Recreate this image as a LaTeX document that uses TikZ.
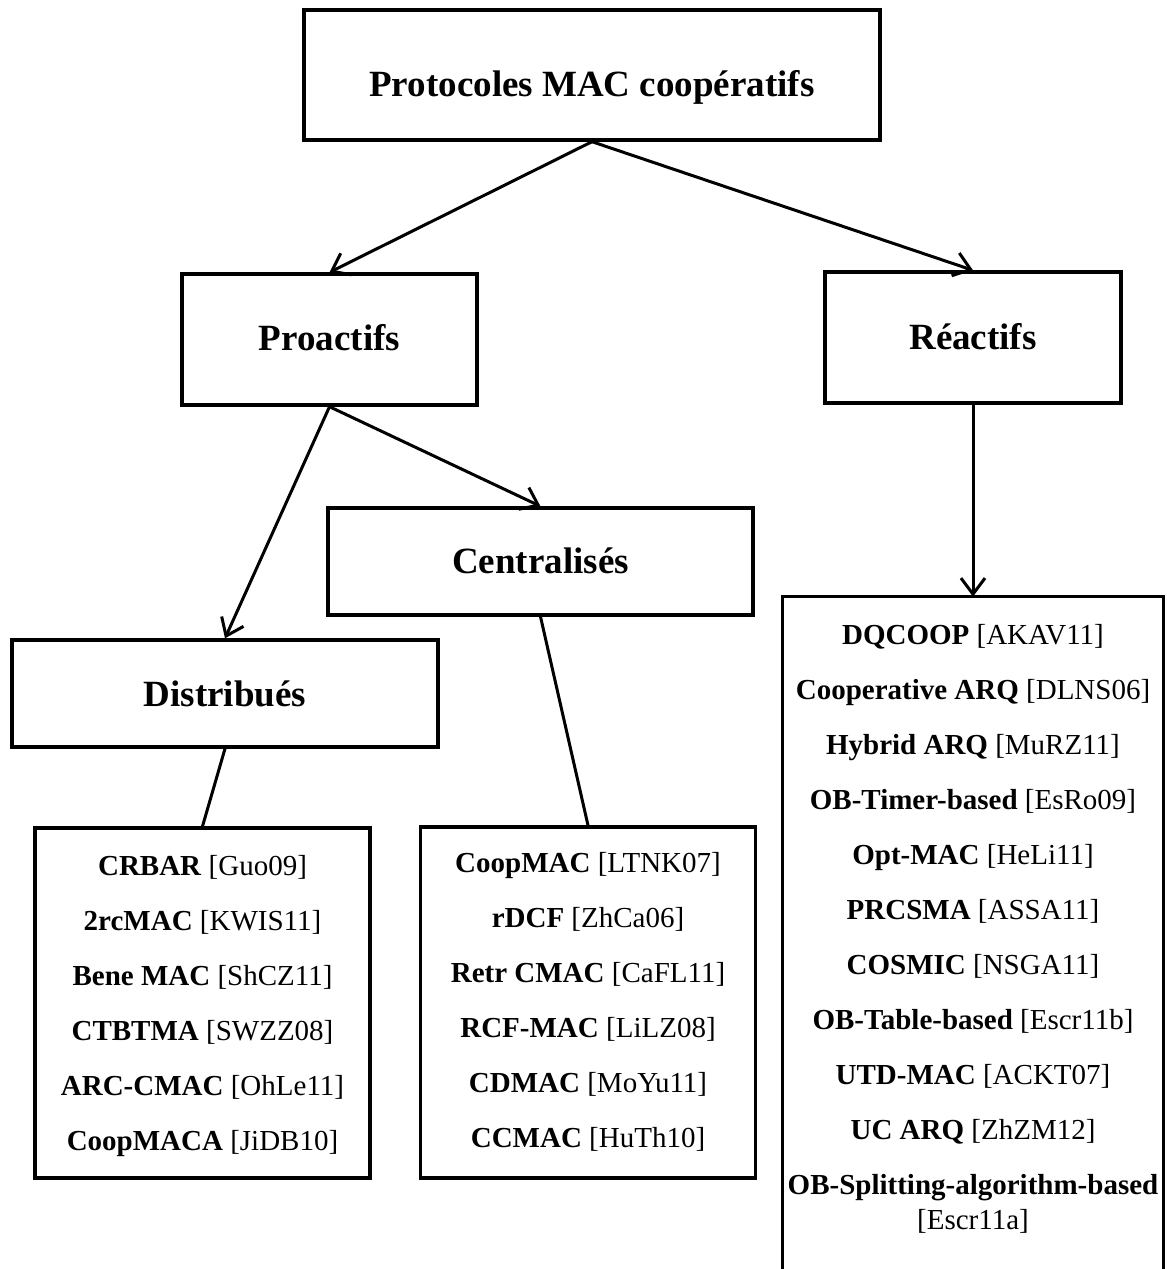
\documentclass[tikz,border=0pt]{standalone}
\usepackage{fontspec}
\setmainfont{Liberation Serif}
\usetikzlibrary{arrows.meta}
\begin{document}
\begin{tikzpicture}[x=0.5pt,y=-0.5pt,
  box/.style={draw, rectangle, line width=1.7pt, inner sep=0pt},
  head/.style={font=\fontsize{18.5}{22}\selectfont\bfseries, anchor=base, inner sep=0pt},
  items/.style={font=\fontsize{14.5}{27.5}\selectfont, anchor=base, align=center, inner sep=0pt},
  link/.style={line width=1.5pt},
  arrow/.style={link, -{Straight Barb[length=8pt,width=12pt]}}]
\useasboundingbox (0,0) rectangle (1167,1269);

% category boxes
\node[box, minimum width=288pt, minimum height=65pt] (top) at (592,75) {};
\node[box, minimum width=147.5pt, minimum height=65.5pt] (pro) at (329.5,339.5) {};
\node[box, minimum width=148pt, minimum height=65.5pt] (rea) at (973,337.5) {};
\node[box, minimum width=212.5pt, minimum height=53.5pt] (cen) at (540.5,561.5) {};
\node[box, minimum width=213pt, minimum height=53.5pt] (dis) at (225,693.5) {};

% protocol list boxes (the reactive list runs past the bottom edge)
\node[box, minimum width=167.5pt, minimum height=175pt] (dlist) at (202.5,1003) {};
\node[box, minimum width=167.5pt, minimum height=175.5pt] (clist) at (588,1002.5) {};
\node[rectangle, inner sep=0pt, minimum width=190pt, minimum height=341.5pt] (rlist) at (973,938.5) {};
\draw[line width=1.7pt] (rlist.south west) -- (rlist.north west) -- (rlist.north east) -- (rlist.south east);

% headings
\node[head] (tTop) at (592,96) {Protocoles MAC coopératifs};
\node[head] (tPro) at (329.5,350) {Proactifs};
\node[head] (tRea) at (973,349) {Réactifs};
\node[head] (tCen) at (540.5,573) {Centralisés};
\node[head] (tDis) at (225,706) {Distribués};

% protocol lists, anchored on the baseline of their last line
\node[items] (tDlist) at (202.5,1150) {\textbf{CRBAR} [Guo09]\\
  \textbf{2rcMAC} [KWIS11]\\
  \textbf{Bene MAC} [ShCZ11]\\
  \textbf{CTBTMA} [SWZZ08]\\
  \textbf{ARC-CMAC} [OhLe11]\\
  \textbf{CoopMACA} [JiDB10]};
\node[items] (tClist) at (588,1147) {\textbf{CoopMAC} [LTNK07]\\
  \textbf{rDCF} [ZhCa06]\\
  \textbf{Retr CMAC} [CaFL11]\\
  \textbf{RCF-MAC} [LiLZ08]\\
  \textbf{CDMAC} [MoYu11]\\
  \textbf{CCMAC} [HuTh10]};
\node[items] (tRlist) at (973,1229.6) {\textbf{DQCOOP} [AKAV11]\\
  \textbf{Cooperative ARQ} [DLNS06]\\
  \textbf{Hybrid ARQ} [MuRZ11]\\
  \textbf{OB-Timer-based} [EsRo09]\\
  \textbf{Opt-MAC} [HeLi11]\\
  \textbf{PRCSMA} [ASSA11]\\
  \textbf{COSMIC} [NSGA11]\\
  \textbf{OB-Table-based} [Escr11b]\\
  \textbf{UTD-MAC} [ACKT07]\\
  \textbf{UC ARQ} [ZhZM12]\\
  \textbf{OB-Splitting-algorithm-based}\\[-10pt]
  {[Escr11a]}};

% connectors
\draw[arrow] (top.south) -- (pro.north);
\draw[arrow] (top.south) -- (rea.north);
\draw[arrow] (pro.south) -- (dis.north);
\draw[arrow] (pro.south) -- (cen.north);
\draw[arrow] (rea.south) -- (rlist.north);
\draw[link] (dis.south) -- (dlist.north);
\draw[link] (cen.south) -- (clist.north);
\end{tikzpicture}
\end{document}
